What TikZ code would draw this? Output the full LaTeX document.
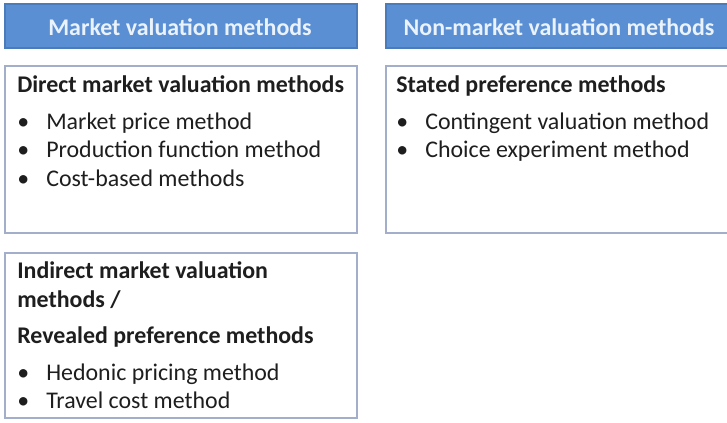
\documentclass[tikz,border=0pt]{standalone}
\usepackage{fontspec}
\setmainfont{Carlito}
\usepackage{tikz}
\usepackage{xcolor}
\definecolor{headblue}{HTML}{5B8FD3}
\definecolor{headedge}{HTML}{4A7BBA}
\definecolor{headtext}{HTML}{EAF2FB}
\definecolor{boxedge}{HTML}{A3AECB}
\definecolor{bodytext}{HTML}{1E1E1E}
\tikzset{
  headbox/.style={draw=headedge, fill=headblue, line width=0.8pt},
  listbox/.style={draw=boxedge, fill=white, line width=0.9pt},
  txt/.style={anchor=base west, inner sep=0pt, text=bodytext, font=\fontsize{17pt}{20pt}\selectfont},
  boldtxt/.style={txt, font=\fontsize{17pt}{20pt}\selectfont\bfseries},
  headtxt/.style={inner sep=0pt, text=headtext, font=\fontsize{17pt}{20pt}\selectfont\bfseries},
}

\begin{document}
\begin{tikzpicture}[x=0.025cm, y=-0.025cm]
\useasboundingbox (0,0) rectangle (727,422);
% headers
\draw[headbox] (5,4) rectangle (357,48);
\draw[headbox] (386,4) rectangle (733,48);
\node[headtxt, anchor=base] (mhead) at (180,35) {Market valuation methods};
\node[headtxt, anchor=base] (nhead) at (559,35) {Non-market valuation methods};
% boxes
\draw[listbox] (5,66) rectangle (357,233);
\draw[listbox] (386,66) rectangle (740,233);
\draw[listbox] (5,253) rectangle (357,418);
% direct
\node[boldtxt] (direct) at (17,92) {Direct market valuation methods};
\foreach \y/\t in {129/Market price method, 157/Production function method, 186/Cost-based methods}{
  \node[txt] at (17,\y) {\textbullet};
  \node[txt] at (46,\y) {\t};
}
% stated
\node[boldtxt] (stated) at (396,92) {Stated preference methods};
\foreach \y/\t in {129/Contingent valuation method, 157/Choice experiment method}{
  \node[txt] at (396,\y) {\textbullet};
  \node[txt] at (425,\y) {\t};
}
% indirect
\node[boldtxt] (indirect) at (17,278) {Indirect market valuation};
\node[boldtxt] (indirect2) at (17,307) {methods /};
\node[boldtxt] (revealed) at (17,343) {Revealed preference methods};
\foreach \y/\t in {380/Hedonic pricing method, 408/Travel cost method}{
  \node[txt] at (17,\y) {\textbullet};
  \node[txt] at (46,\y) {\t};
}
\end{tikzpicture}
\end{document}
